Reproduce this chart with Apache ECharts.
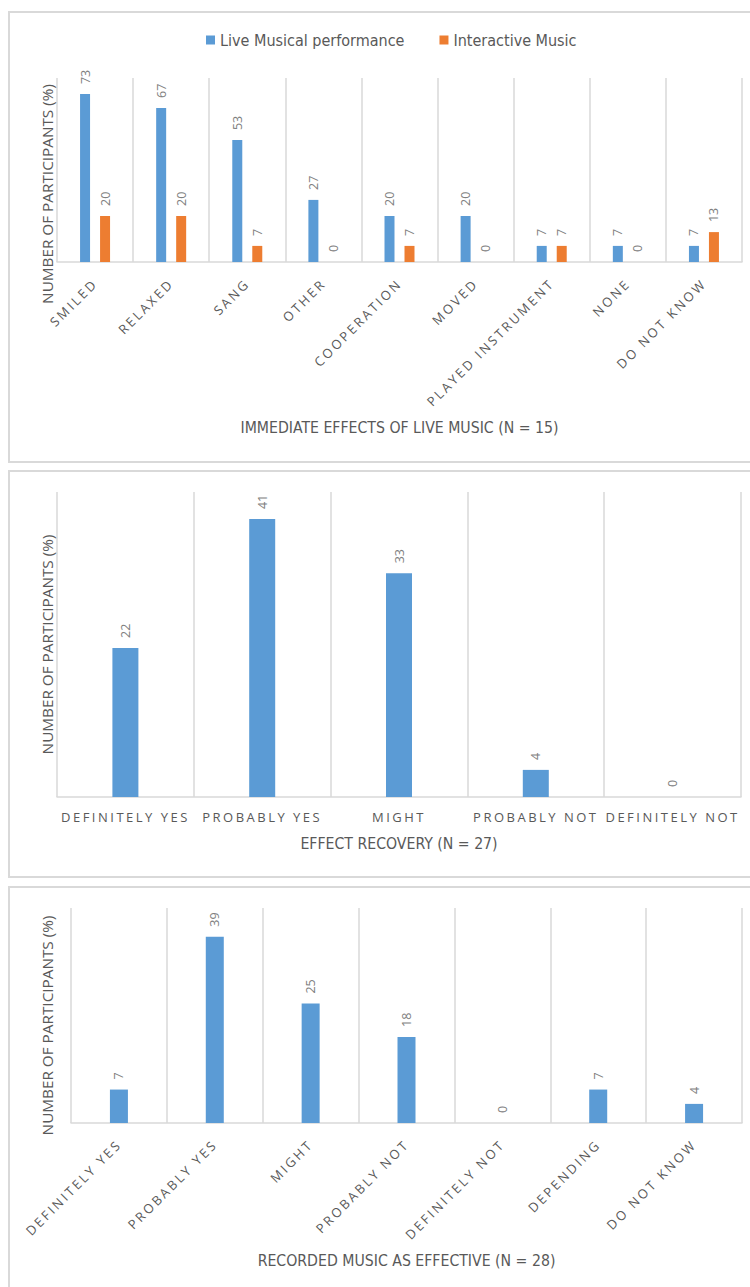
<!DOCTYPE html>
<html>
<head>
<meta charset="utf-8">
<script src="https://cdn.jsdelivr.net/npm/echarts@6/dist/echarts.min.js"></script>
<style>
  html, body { margin: 0; padding: 0; background: #fff; }
  #main { width: 750px; height: 1287px; }
</style>
</head>
<body>
<div id="main"></div>
<script>
// panel 1 - immediate effects
var effectCats = ['SMILED', 'RELAXED', 'SANG', 'OTHER', 'COOPERATION', 'MOVED', 'PLAYED INSTRUMENT', 'NONE', 'DO NOT KNOW'];
var liveValues = [73, 67, 53, 27, 20, 20, 7, 7, 7];
var interactiveValues = [20, 20, 7, 0, 7, 0, 7, 0, 13];

// panel 2 - effect recovery
var recoveryCats = ['DEFINITELY YES', 'PROBABLY YES', 'MIGHT', 'PROBABLY NOT', 'DEFINITELY NOT'];
var recoveryValues = [22, 41, 33, 4, 0];

// panel 3 - recorded music
var recordedCats = ['DEFINITELY YES', 'PROBABLY YES', 'MIGHT', 'PROBABLY NOT', 'DEFINITELY NOT', 'DEPENDING', 'DO NOT KNOW'];
var recordedValues = [7, 39, 25, 18, 0, 7, 4];

var BLUE = '#5b9bd5';
var ORANGE = '#ed7d31';
var GRID_LINE = '#d9d9d9';
var TEXT = '#595959';
var LABEL = '#808080';
var TITLE_FONT = "'Liberation Sans Narrow', 'DejaVu Sans Condensed', sans-serif";
var AXIS_FONT = "'Open Sans', sans-serif";

var chart = echarts.init(document.getElementById('main'), null, { renderer: 'svg' });

function xAxisOf(idx, cats, rotate, gap, name, margin) {
  return {
    type: 'category',
    gridIndex: idx,
    data: cats,
    name: name,
    nameLocation: 'middle',
    nameGap: gap,
    nameTextStyle: { color: TEXT, fontFamily: TITLE_FONT, fontSize: 15.7 },
    axisLine: { lineStyle: { color: GRID_LINE, width: 1.5 } },
    axisTick: { show: false },
    splitLine: { show: true, lineStyle: { color: GRID_LINE, width: 1.5 } },
    axisLabel: {
      interval: 0,
      rotate: rotate,
      margin: margin,
      color: TEXT,
      fontFamily: AXIS_FONT,
      fontSize: 13
    }
  };
}

function yAxisOf(idx, max, gap, shift) {
  return {
    type: 'value',
    gridIndex: idx,
    min: 0,
    max: max,
    name: 'NUMBER OF PARTICIPANTS (%)',
    nameLocation: 'middle',
    nameRotate: 90,
    nameGap: gap,
    nameTextStyle: {
      color: TEXT, fontFamily: AXIS_FONT, fontSize: 15.3,
      padding: [0, shift, 0, 0]
    },
    axisLine: { show: false },
    axisTick: { show: false },
    axisLabel: { show: false },
    splitLine: { show: false }
  };
}

function barLabel() {
  return {
    show: true,
    position: 'top',
    distance: 10,
    rotate: 90,
    align: 'left',
    verticalAlign: 'middle',
    color: LABEL,
    fontFamily: AXIS_FONT,
    fontSize: 12.5
  };
}

var option = {
  backgroundColor: '#fff',
  animation: false,
  graphic: [
    { type: 'rect', shape: { x: 9, y: 12, width: 760, height: 450 }, style: { fill: null, stroke: GRID_LINE, lineWidth: 2 } },
    { type: 'rect', shape: { x: 9, y: 471, width: 760, height: 406 }, style: { fill: null, stroke: GRID_LINE, lineWidth: 2 } },
    { type: 'rect', shape: { x: 9, y: 887, width: 760, height: 420 }, style: { fill: null, stroke: GRID_LINE, lineWidth: 2 } }
  ],
  legend: {
    data: ['Live Musical performance', 'Interactive Music'],
    left: 201,
    top: 27,
    icon: 'rect',
    itemWidth: 9,
    itemHeight: 9,
    itemGap: 35,
    textStyle: { color: TEXT, fontFamily: TITLE_FONT, fontSize: 16 }
  },
  grid: [
    { left: 57, top: 78, width: 685, height: 184 },
    { left: 57, top: 492, width: 684, height: 305 },
    { left: 71, top: 908, width: 671, height: 215 }
  ],
  xAxis: [
    xAxisOf(0, effectCats, 45, 157, 'IMMEDIATE EFFECTS OF LIVE MUSIC (N = 15)', 19),
    xAxisOf(1, recoveryCats, 0, 38, 'EFFECT RECOVERY (N = 27)', 13),
    xAxisOf(2, recordedCats, 45, 129, 'RECORDED MUSIC AS EFFECTIVE (N = 28)', 19)
  ],
  yAxis: [
    yAxisOf(0, 80, 3, 48),
    yAxisOf(1, 45, 3, 0),
    yAxisOf(2, 45, 17, 20)
  ],
  series: [
    {
      name: 'Live Musical performance', type: 'bar', xAxisIndex: 0, yAxisIndex: 0,
      data: liveValues, barWidth: 10, barGap: '100%',
      itemStyle: { color: BLUE }, label: barLabel()
    },
    {
      name: 'Interactive Music', type: 'bar', xAxisIndex: 0, yAxisIndex: 0,
      data: interactiveValues, barWidth: 10, barGap: '100%',
      itemStyle: { color: ORANGE }, label: barLabel()
    },
    {
      name: 'Effect recovery', type: 'bar', xAxisIndex: 1, yAxisIndex: 1,
      data: recoveryValues, barWidth: 26,
      itemStyle: { color: BLUE }, label: barLabel()
    },
    {
      name: 'Recorded music as effective', type: 'bar', xAxisIndex: 2, yAxisIndex: 2,
      data: recordedValues, barWidth: 18,
      itemStyle: { color: BLUE }, label: barLabel()
    }
  ]
};

chart.setOption(option);

// category labels in the original are letter-spaced; the svg text takes it directly
var spaced = {};
effectCats.concat(recoveryCats, recordedCats).forEach(function (c) { spaced[c] = true; });
function spaceLabels() {
  var texts = document.querySelectorAll('#main svg text');
  for (var i = 0; i < texts.length; i++) {
    if (spaced[texts[i].textContent]) texts[i].style.letterSpacing = '2.5px';
  }
}
spaceLabels();
chart.on('finished', spaceLabels);
</script>
</body>
</html>
